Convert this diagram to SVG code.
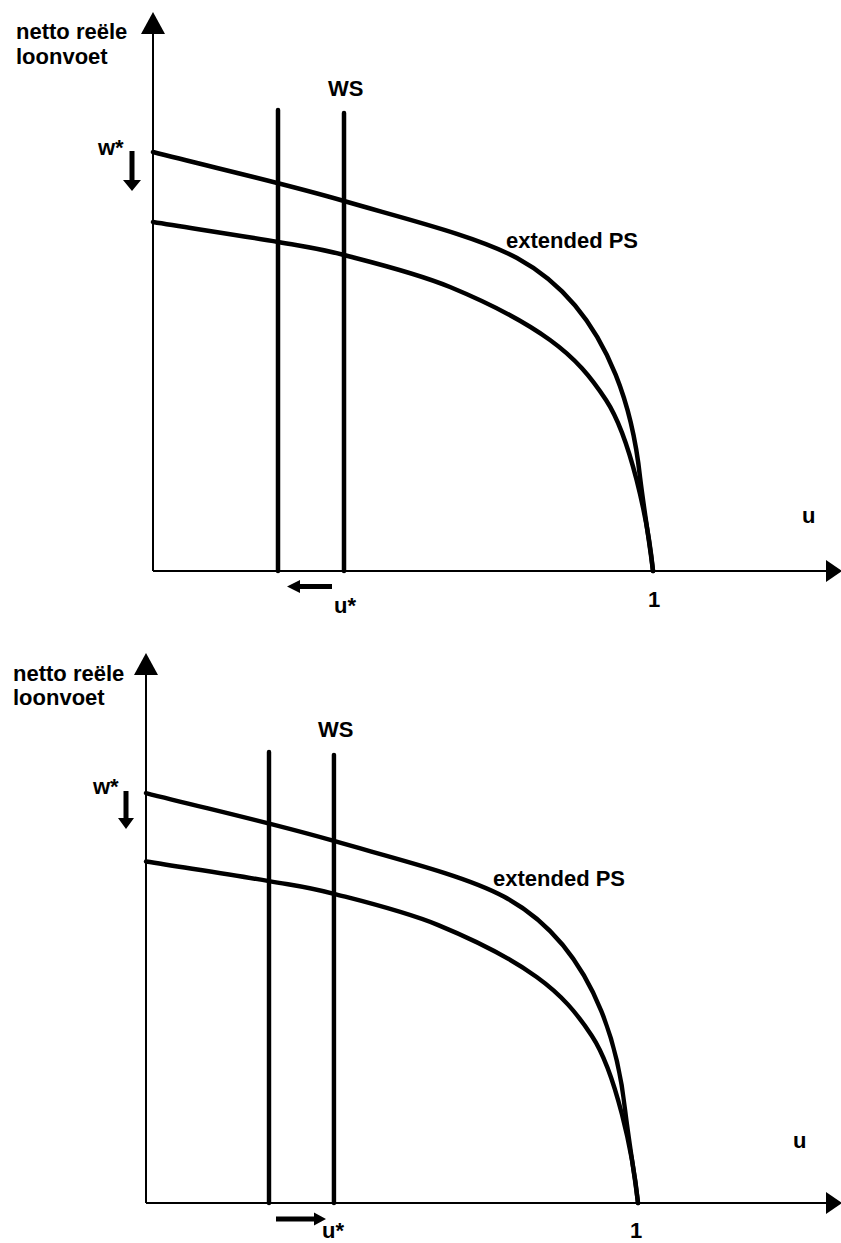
<svg xmlns="http://www.w3.org/2000/svg" width="841" height="1243" viewBox="0 0 841 1243">
  <style>
    .lbl { font-family: "Liberation Sans", Arial, sans-serif; font-weight: bold; font-size: 22px; fill: #000; }
    .axis { stroke: #000; stroke-width: 2; fill: none; }
    .curve { stroke: #000; stroke-width: 4.5; fill: none; stroke-linecap: round; }
    .ws { stroke: #000; stroke-width: 4.5; fill: none; stroke-linecap: round; }
    .head { fill: #000; stroke: none; }
  </style>
  <rect width="841" height="1243" fill="#fff"/>

  <!-- TOP PANEL -->
  <g id="panel-top">
    <g id="top-axes">
      <line class="axis" x1="153" y1="30" x2="153" y2="571"/>
      <polygon class="head" points="153,12 165,34 141,34"/>
      <line class="axis" x1="153" y1="571" x2="830" y2="571"/>
      <polygon class="head" points="842,571 826,560 826,582"/>
    </g>
    <g id="top-ws-lines">
      <line class="ws" x1="278" y1="110" x2="278" y2="571"/>
      <line class="ws" x1="344" y1="113" x2="344" y2="571"/>
    </g>
    <g id="top-curves">
      <path class="curve" d="M153,152 C216.7,168.3 283.3,183.3 344,201 C404.7,218.7 477.4,236.4 517,258 C620,314 636,440 640,477 C644,510 650,545 653,571"/>
      <path class="curve" d="M153,222 C194.7,228.7 246.2,236.5 278,242 C309.8,247.5 315.3,247.5 344,255 C372.7,262.5 415.7,272.8 450,287 C484.3,301.2 524,321.2 550,340 C576,358.8 591,377.2 606,400 C630,436.5 648,520 653,571"/>
    </g>
    <g id="top-arrows">
      <polygon class="head" points="129.5,151 134.5,151 134.5,180 141,180 132,191 123,180 129.5,180"/>
      <polygon class="head" points="332,584 332,589 300,589 300,593 287,586.5 300,580 300,584"/>
    </g>
    <g id="top-labels">
      <text class="lbl" x="16" y="39">netto reële</text>
      <text class="lbl" x="16" y="64">loonvoet</text>
      <text class="lbl" x="98" y="155">w*</text>
      <text class="lbl" x="328" y="96">WS</text>
      <text class="lbl" x="506" y="248">extended PS</text>
      <text class="lbl" x="802" y="523">u</text>
      <text class="lbl" x="334" y="613">u*</text>
      <text class="lbl" x="648" y="607">1</text>
    </g>
  </g>

  <!-- BOTTOM PANEL -->
  <g id="panel-bottom">
    <g id="bottom-axes">
      <line class="axis" x1="146" y1="670" x2="146" y2="1203"/>
      <polygon class="head" points="146,653 158,675 134,675"/>
      <line class="axis" x1="146" y1="1203" x2="830" y2="1203"/>
      <polygon class="head" points="842,1203 826,1192 826,1214"/>
    </g>
    <g id="bottom-plot" transform="translate(146,1203) scale(0.984,0.9785) translate(-153,-571)">
      <g id="bottom-ws-lines">
        <line class="ws" x1="278" y1="110" x2="278" y2="571"/>
        <line class="ws" x1="344" y1="113" x2="344" y2="571"/>
      </g>
      <g id="bottom-curves">
        <path class="curve" d="M153,152 C216.7,168.3 283.3,183.3 344,201 C404.7,218.7 477.4,236.4 517,258 C620,314 636,440 640,477 C644,510 650,545 653,571"/>
        <path class="curve" d="M153,222 C194.7,228.7 246.2,236.5 278,242 C309.8,247.5 315.3,247.5 344,255 C372.7,262.5 415.7,272.8 450,287 C484.3,301.2 524,321.2 550,340 C576,358.8 591,377.2 606,400 C630,436.5 648,520 653,571"/>
      </g>
    </g>
    <g id="bottom-arrows">
      <polygon class="head" points="123.5,791 128.5,791 128.5,818 134,818 126,829 118,818 123.5,818"/>
      <polygon class="head" points="276,1216.5 314,1216.5 314,1212.5 326,1219 314,1225.5 314,1221.5 276,1221.5"/>
    </g>
    <g id="bottom-labels">
      <text class="lbl" x="13" y="681">netto reële</text>
      <text class="lbl" x="13" y="705">loonvoet</text>
      <text class="lbl" x="93" y="794">w*</text>
      <text class="lbl" x="318" y="737">WS</text>
      <text class="lbl" x="493" y="886">extended PS</text>
      <text class="lbl" x="793" y="1148">u</text>
      <text class="lbl" x="322" y="1238">u*</text>
      <text class="lbl" x="630" y="1238">1</text>
    </g>
  </g>
</svg>
